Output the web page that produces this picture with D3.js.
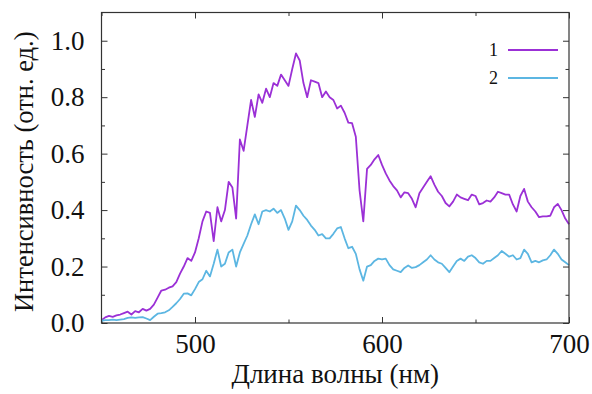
<!DOCTYPE html>
<html>
<head>
<meta charset="utf-8">
<script src="https://cdn.jsdelivr.net/npm/d3@7"></script>
<style>
  body { margin: 0; background: #fff; }
  svg text { font-family: "Liberation Serif", "DejaVu Serif", serif; fill: #111; }
</style>
</head>
<body>
<svg id="chart" width="592" height="394"></svg>
<script>
// wavelength grid, nm (step 2)
let wavelengths = d3.range(450, 701, 2)

// series 1 (purple)
let series1 = [
  0.01, 0.02, 0.025, 0.022, 0.027, 0.03, 0.035, 0.04, 0.03, 0.042,
  0.038, 0.05, 0.044, 0.05, 0.065, 0.09, 0.115, 0.118, 0.125, 0.13,
  0.145, 0.175, 0.2, 0.23, 0.22, 0.25, 0.3, 0.36, 0.395, 0.39,
  0.29, 0.41, 0.36, 0.4, 0.5, 0.48, 0.37, 0.65, 0.61, 0.7,
  0.79, 0.73, 0.81, 0.78, 0.83, 0.8, 0.85, 0.84, 0.88, 0.86,
  0.84, 0.9, 0.955, 0.93, 0.85, 0.8, 0.86, 0.855, 0.85, 0.8,
  0.82, 0.8, 0.79, 0.76, 0.77, 0.745, 0.71, 0.708, 0.66, 0.47,
  0.36, 0.546, 0.56, 0.58, 0.595, 0.56, 0.53, 0.505, 0.485, 0.47,
  0.445, 0.463, 0.46, 0.44, 0.41, 0.46, 0.48, 0.5, 0.52, 0.49,
  0.465, 0.45, 0.425, 0.413, 0.43, 0.455, 0.445, 0.44, 0.435, 0.455,
  0.45, 0.42, 0.425, 0.434, 0.43, 0.445, 0.465, 0.46, 0.455, 0.455,
  0.42, 0.395, 0.45, 0.475, 0.43, 0.41, 0.395, 0.375, 0.378, 0.378,
  0.38, 0.41, 0.422, 0.4, 0.37, 0.35
]

// series 2 (light blue)
let series2 = [
  0.008, 0.01, 0.01, 0.012, 0.01, 0.012, 0.014, 0.018, 0.02, 0.018,
  0.02, 0.021, 0.016, 0.01, 0.022, 0.033, 0.035, 0.038, 0.045, 0.057,
  0.07, 0.085, 0.104, 0.105, 0.098, 0.12, 0.145, 0.155, 0.185, 0.165,
  0.21, 0.26, 0.2, 0.21, 0.25, 0.26, 0.2, 0.25, 0.28, 0.31,
  0.35, 0.385, 0.35, 0.395, 0.4, 0.395, 0.405, 0.39, 0.4, 0.37,
  0.33, 0.36, 0.416, 0.4, 0.38, 0.365, 0.345, 0.33, 0.31, 0.315,
  0.3, 0.3, 0.316, 0.335, 0.34, 0.3, 0.265, 0.27, 0.245, 0.19,
  0.15, 0.2, 0.205, 0.22, 0.228, 0.225, 0.228, 0.205, 0.19, 0.185,
  0.18, 0.195, 0.204, 0.195, 0.198, 0.205, 0.215, 0.225, 0.24, 0.225,
  0.215, 0.21, 0.195, 0.18, 0.2, 0.22, 0.228, 0.22, 0.235, 0.24,
  0.23, 0.215, 0.21, 0.22, 0.22, 0.23, 0.24, 0.255, 0.245, 0.235,
  0.24, 0.225, 0.23, 0.26, 0.245, 0.215, 0.22, 0.215, 0.222, 0.225,
  0.24, 0.26, 0.245, 0.225, 0.215, 0.205
]

let seriesNames = ["1", "2"]
let seriesColors = ["#9b30d6", "#5cb6e2"]

let xMajor = [500, 600, 700]
let xMinor = [450, 550, 650]
let yMajor = [0, 0.2, 0.4, 0.6, 0.8, 1.0]
let yMinor = [0.1, 0.3, 0.5, 0.7, 0.9]

let width = 592
let height = 394
let margin = { top: 12.5, right: 23, bottom: 71, left: 101.5 }
let svg = d3.select("#chart")

let x = d3.scaleLinear()
  .domain([450, 700])
  .range([margin.left, width - margin.right])

let y = d3.scaleLinear()
  .domain([0, 1.1])
  .range([height - margin.bottom, margin.top])

function styleAxis(g) {
  g.select(".domain").remove()
  g.attr("font-family", null)
  g.selectAll(".tick line").attr("stroke", "#333").attr("stroke-width", 1)
}

// bottom axis with labels
svg.append("g")
  .attr("transform", `translate(0,${height - margin.bottom})`)
  .call(d3.axisBottom(x).tickValues(xMajor).tickSize(-6).tickPadding(11).tickFormat(d3.format("d")))
  .call(styleAxis)
  .selectAll("text").style("font-size", "27px")

svg.append("g")
  .attr("transform", `translate(0,${height - margin.bottom})`)
  .call(d3.axisBottom(x).tickValues(xMinor).tickSize(-3.5).tickFormat(""))
  .call(styleAxis)

// top mirror ticks
svg.append("g")
  .attr("transform", `translate(0,${margin.top})`)
  .call(d3.axisTop(x).tickValues(xMajor).tickSize(-6).tickFormat(""))
  .call(styleAxis)
svg.append("g")
  .attr("transform", `translate(0,${margin.top})`)
  .call(d3.axisTop(x).tickValues(xMinor).tickSize(-3.5).tickFormat(""))
  .call(styleAxis)

// left axis with labels
svg.append("g")
  .attr("transform", `translate(${margin.left},0)`)
  .call(d3.axisLeft(y).tickValues(yMajor).tickSize(-6).tickPadding(17).tickFormat(d3.format(".1f")))
  .call(styleAxis)
  .selectAll("text").style("font-size", "27px")

svg.append("g")
  .attr("transform", `translate(${margin.left},0)`)
  .call(d3.axisLeft(y).tickValues(yMinor).tickSize(-3.5).tickFormat(""))
  .call(styleAxis)

// right mirror ticks
svg.append("g")
  .attr("transform", `translate(${width - margin.right},0)`)
  .call(d3.axisRight(y).tickValues(yMajor).tickSize(-6).tickFormat(""))
  .call(styleAxis)
svg.append("g")
  .attr("transform", `translate(${width - margin.right},0)`)
  .call(d3.axisRight(y).tickValues(yMinor).tickSize(-3.5).tickFormat(""))
  .call(styleAxis)

// lines
let line = d3.line()
  .x((d, i) => x(wavelengths[i]))
  .y(d => y(d))

svg.append("g")
  .selectAll("path")
  .data([series1, series2])
  .join("path")
  .attr("d", d => line(d))
  .style("fill", "none")
  .style("stroke", (d, i) => seriesColors[i])
  .style("stroke-width", "1.8px")
  .style("stroke-linejoin", "round")

// frame
svg.append("rect")
  .attr("x", margin.left)
  .attr("y", margin.top)
  .attr("width", width - margin.left - margin.right)
  .attr("height", height - margin.top - margin.bottom)
  .style("fill", "none")
  .style("stroke", "#333")
  .style("stroke-width", 1.2)

// legend
let legend = svg.append("g")
  .selectAll("g")
  .data(seriesNames)
  .join("g")
  .attr("transform", (d, i) => `translate(0,${50 + i * 28})`)

legend.append("text")
  .attr("x", 498)
  .attr("y", 6)
  .attr("text-anchor", "end")
  .style("font-size", "18px")
  .text(d => d)

legend.append("line")
  .attr("x1", 508)
  .attr("x2", 558)
  .attr("y1", 0)
  .attr("y2", 0)
  .style("stroke", (d, i) => seriesColors[i])
  .style("stroke-width", 1.8)

// axis titles
svg.append("text")
  .attr("x", (margin.left + width - margin.right) / 2)
  .attr("y", 383)
  .attr("text-anchor", "middle")
  .style("font-size", "27px")
  .text("Длина волны (нм)")

svg.append("text")
  .attr("transform", `translate(33,${(margin.top + height - margin.bottom) / 2 + 4}) rotate(-90)`)
  .attr("text-anchor", "middle")
  .style("font-size", "26.5px")
  .text("Интенсивность (отн. ед.)")
</script>
</body>
</html>
